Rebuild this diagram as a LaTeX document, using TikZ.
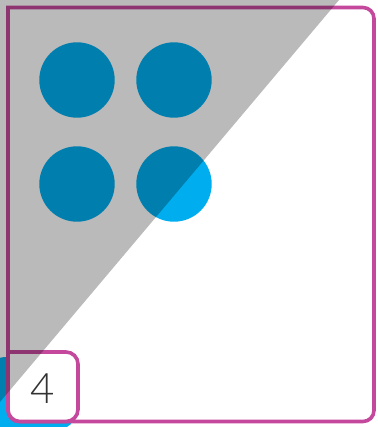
\documentclass[tikz,border=0pt]{standalone}
\usepackage{fontspec}
\setmainfont{Lato}
\newfontfamily\numfont{Lato Light}
\definecolor{framepink}{RGB}{196,72,156}
\definecolor{dotcyan}{RGB}{0,174,239}
\definecolor{numgray}{RGB}{51,51,51}
\begin{document}
\begin{tikzpicture}[x=1pt, y=-1pt,
    edge/.style={draw=framepink, line width=3.6pt},
    dot/.style={fill=dotcyan}]
    \useasboundingbox (0,0) rectangle (377,427);
    \clip (0,0) rectangle (377,427);

    % карточка под рамкой
    \fill[dotcyan, rounded corners=12pt] (-8,357) rectangle (74,428);

    % рамка
    \draw[edge, fill=white] (8,200) -- (8,7.5) -- (200,7.5) [rounded corners=11pt]
        -- (374,7.5) -- (374,421.5) -- (8,421.5) -- cycle;

    % точки
    \foreach \cx in {77,174}
        \foreach \cy in {80,184}
            \fill[dot] (\cx,\cy) circle (37.7pt);

    % номер
    \draw[edge, fill=white] (8,390) -- (8,352) -- (40,352) [rounded corners=12pt]
        -- (78,352) -- (78,421.5) -- (8,421.5) -- cycle;
    \node[font=\numfont\fontsize{42}{42}\selectfont, text=numgray] (num) at (43,388.5) {4};

    % тень
    \fill[black, opacity=0.27] (0,0) -- (339,0) -- (0,402) -- cycle;
\end{tikzpicture}
\end{document}
